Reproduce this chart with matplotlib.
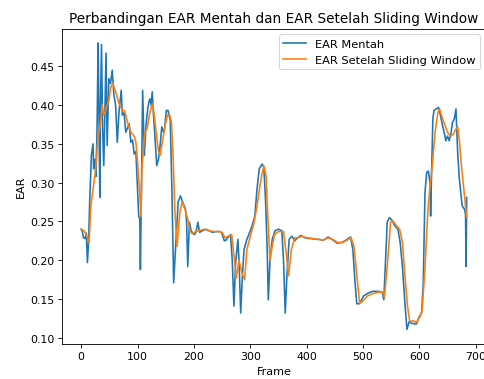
import matplotlib
matplotlib.use("Agg")
import matplotlib.pyplot as plt

# EAR values (frame, value)
raw_frames = [0, 2, 4, 7, 9, 11, 13, 15, 18, 21, 22, 24, 26, 28, 30, 31, 33, 34, 36, 38,
              40, 42, 44, 46, 49, 52, 55, 58, 61, 64, 67, 71, 73, 76, 79, 82, 85, 88, 91, 94,
              97, 100, 102, 104, 105, 109, 112, 115, 118, 120, 122, 124, 126, 128, 130, 134, 137, 139, 143, 146,
              148, 151, 154, 158, 161, 164, 168, 172, 176, 180, 185, 187, 189, 192, 195, 197, 201, 204, 207, 210,
              215, 221, 227, 233, 239, 245, 249, 254, 257, 260, 265, 268, 271, 274, 278, 280, 283, 286, 289, 294,
              300, 304, 308, 312, 316, 321, 324, 327, 330, 332, 335, 339, 344, 350, 356, 359, 362, 365, 369, 374,
              379, 384, 390, 397, 403, 409, 415, 421, 430, 438, 445, 454, 463, 472, 478, 482, 486, 489, 494, 501,
              510, 517, 527, 534, 537, 540, 543, 547, 552, 556, 562, 566, 570, 574, 578, 582, 586, 591, 595, 599,
              604, 607, 610, 613, 616, 619, 620, 622, 624, 626, 630, 634, 638, 641, 644, 647, 650, 653, 656, 659,
              662, 665, 668, 671, 676, 680, 682, 683, 684]
raw_ear = [0.240, 0.237, 0.229, 0.228, 0.235, 0.197, 0.224, 0.275, 0.335, 0.350, 0.318, 0.330, 0.308, 0.365, 0.480, 0.420, 0.281, 0.390, 0.478, 0.369,
           0.322, 0.390, 0.467, 0.348, 0.434, 0.428, 0.445, 0.413, 0.400, 0.352, 0.391, 0.419, 0.387, 0.390, 0.365, 0.370, 0.376, 0.352, 0.355, 0.337,
           0.340, 0.292, 0.257, 0.253, 0.188, 0.419, 0.335, 0.374, 0.395, 0.404, 0.408, 0.400, 0.417, 0.390, 0.369, 0.322, 0.330, 0.340, 0.372, 0.365,
           0.370, 0.393, 0.393, 0.380, 0.288, 0.171, 0.223, 0.275, 0.283, 0.275, 0.266, 0.250, 0.192, 0.249, 0.238, 0.236, 0.233, 0.237, 0.249, 0.236,
           0.238, 0.240, 0.238, 0.236, 0.237, 0.237, 0.236, 0.225, 0.226, 0.229, 0.233, 0.200, 0.141, 0.197, 0.227, 0.200, 0.132, 0.180, 0.214, 0.227,
           0.238, 0.246, 0.257, 0.292, 0.318, 0.324, 0.320, 0.279, 0.214, 0.149, 0.200, 0.227, 0.238, 0.240, 0.238, 0.200, 0.132, 0.180, 0.227, 0.231,
           0.225, 0.229, 0.232, 0.229, 0.228, 0.228, 0.227, 0.227, 0.226, 0.230, 0.227, 0.222, 0.223, 0.227, 0.230, 0.214, 0.171, 0.144, 0.144, 0.154,
           0.158, 0.160, 0.160, 0.159, 0.149, 0.200, 0.249, 0.255, 0.251, 0.245, 0.240, 0.223, 0.192, 0.149, 0.111, 0.121, 0.119, 0.118, 0.118, 0.126,
           0.132, 0.171, 0.287, 0.313, 0.315, 0.300, 0.257, 0.320, 0.382, 0.393, 0.395, 0.397, 0.385, 0.374, 0.365, 0.354, 0.360, 0.354, 0.363, 0.378,
           0.382, 0.395, 0.339, 0.305, 0.270, 0.266, 0.259, 0.192, 0.281]

smooth_frames = [0, 5, 9, 14, 17, 25, 30, 34, 37, 40, 43, 45, 49, 52, 55, 58, 62, 67, 73, 77,
                 82, 88, 94, 97, 100, 104, 106, 108, 113, 117, 122, 126, 129, 133, 137, 140, 144, 149, 153, 157,
                 160, 163, 166, 170, 175, 179, 184, 189, 193, 197, 203, 209, 218, 227, 236, 245, 250, 255, 261, 267,
                 272, 275, 280, 285, 290, 294, 300, 306, 312, 318, 324, 328, 331, 335, 339, 343, 350, 359, 363, 368,
                 373, 379, 385, 392, 400, 410, 420, 430, 438, 446, 455, 464, 472, 479, 484, 490, 494, 499, 508, 517,
                 527, 535, 538, 543, 549, 553, 559, 565, 570, 574, 579, 583, 589, 595, 601, 605, 610, 615, 619, 623,
                 628, 633, 636, 640, 645, 650, 655, 660, 664, 668, 671, 674, 680, 684]
smooth_ear = [0.240, 0.238, 0.233, 0.222, 0.270, 0.313, 0.360, 0.375, 0.400, 0.387, 0.392, 0.397, 0.406, 0.421, 0.428, 0.424, 0.415, 0.402, 0.393, 0.393,
              0.378, 0.365, 0.360, 0.352, 0.326, 0.283, 0.257, 0.322, 0.365, 0.370, 0.391, 0.402, 0.391, 0.365, 0.341, 0.335, 0.352, 0.374, 0.387, 0.387,
              0.378, 0.335, 0.266, 0.218, 0.262, 0.275, 0.266, 0.253, 0.238, 0.234, 0.237, 0.238, 0.240, 0.238, 0.237, 0.237, 0.236, 0.229, 0.231, 0.233,
              0.200, 0.177, 0.200, 0.184, 0.175, 0.214, 0.231, 0.246, 0.270, 0.300, 0.322, 0.309, 0.257, 0.200, 0.218, 0.233, 0.237, 0.237, 0.214, 0.180,
              0.214, 0.229, 0.229, 0.231, 0.229, 0.228, 0.227, 0.226, 0.229, 0.227, 0.223, 0.223, 0.226, 0.229, 0.218, 0.175, 0.145, 0.147, 0.154, 0.157,
              0.159, 0.159, 0.152, 0.192, 0.249, 0.251, 0.245, 0.240, 0.223, 0.184, 0.141, 0.121, 0.122, 0.120, 0.127, 0.136, 0.190, 0.262, 0.296, 0.322,
              0.365, 0.391, 0.395, 0.385, 0.375, 0.365, 0.360, 0.362, 0.368, 0.372, 0.355, 0.327, 0.283, 0.255]

title = "Perbandingan EAR Mentah dan EAR Setelah Sliding Window"
labels = ["EAR Mentah", "EAR Setelah Sliding Window"]

DPI = 78
fig = plt.figure(figsize=(484 / DPI, 380 / DPI), dpi=DPI)
ax = fig.add_axes([0.128, 0.093, 0.876, 0.829])

ax.plot(raw_frames, raw_ear, color="#1f77b4", label=labels[0])
ax.plot(smooth_frames, smooth_ear, color="#ff7f0e", label=labels[1])

ax.set_title(title, fontsize=12.6)
ax.set_xlabel("Frame", fontsize=10.3)
ax.set_ylabel("EAR", fontsize=10.3)
ax.tick_params(labelsize=10.2)
ax.set_xticks(range(0, 701, 100))
ax.legend(loc="upper right", fontsize=10.5)

fig.savefig("out.png", dpi=DPI)
